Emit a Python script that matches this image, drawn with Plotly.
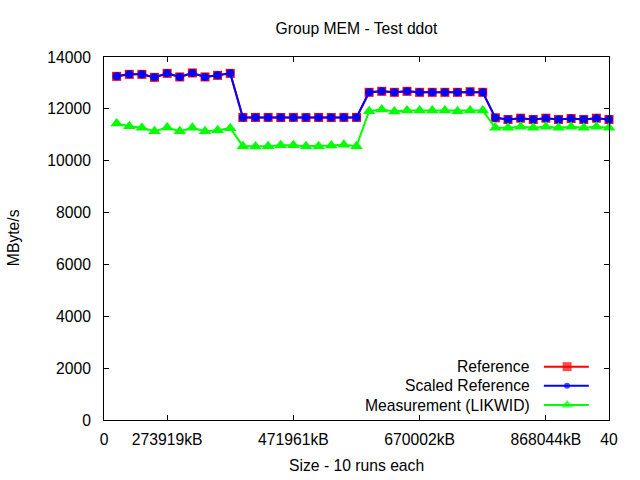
import plotly.graph_objects as go

# ---- data ----
run_index = [1, 2, 3, 4, 5, 6, 7, 8, 9, 10,
             11, 12, 13, 14, 15, 16, 17, 18, 19, 20,
             21, 22, 23, 24, 25, 26, 27, 28, 29, 30,
             31, 32, 33, 34, 35, 36, 37, 38, 39, 40]

reference = [13254, 13331, 13331, 13215, 13369, 13231, 13385, 13231, 13292, 13369,
             11670, 11670, 11670, 11665, 11670, 11665, 11670, 11665, 11670, 11670,
             12638, 12677, 12638, 12677, 12638, 12638, 12638, 12638, 12660, 12638,
             11654, 11590, 11640, 11590, 11640, 11590, 11628, 11590, 11640, 11590]

scaled_reference = [13254, 13331, 13331, 13215, 13369, 13231, 13385, 13231, 13292, 13369,
                    11670, 11670, 11670, 11665, 11670, 11665, 11670, 11665, 11670, 11670,
                    12638, 12677, 12638, 12677, 12638, 12638, 12638, 12638, 12660, 12638,
                    11654, 11590, 11640, 11590, 11640, 11590, 11628, 11590, 11640, 11590]

measurement = [11435, 11331, 11269, 11138, 11281, 11138, 11269, 11138, 11177, 11254,
               10560, 10550, 10560, 10600, 10600, 10560, 10560, 10585, 10620, 10560,
               11908, 11973, 11896, 11935, 11935, 11935, 11935, 11908, 11935, 11935,
               11269, 11269, 11308, 11269, 11308, 11269, 11308, 11269, 11308, 11269]

x_tick_vals = [0, 5, 15, 25, 35, 40]
x_tick_text = ["0", "273919kB", "471961kB", "670002kB", "868044kB", "40"]
y_tick_vals = [0, 2000, 4000, 6000, 8000, 10000, 12000, 14000]

series_names = ["Reference", "Scaled Reference", "Measurement (LIKWID)"]
series_colors = ["#ff0000", "#0000ff", "#00ff00"]
series_symbols = ["square", "circle", "triangle-up"]
series_sizes = [9, 8, 11]
key_sizes = [9, 6, 10]

FONT = "Liberation Sans, Arial, Helvetica, sans-serif"
FS = 15.7

fig = go.Figure()
for name, vals, col, sym, sz in zip(series_names, [reference, scaled_reference, measurement],
                                    series_colors, series_symbols, series_sizes):
    fig.add_trace(go.Scatter(
        x=run_index, y=vals, mode="lines+markers", name=name,
        line=dict(color=col, width=2),
        marker=dict(color=col, symbol=sym, size=sz, line=dict(width=0)),
        showlegend=False, cliponaxis=False,
    ))

# ---- custom gnuplot-style key (text left, sample right) ----
key_y = [0.147, 0.0945, 0.0413]
text_x = 0.847
line_x0, line_xm, line_x1 = 0.871, 0.917, 0.960
for name, col, sym, sz, ky in zip(series_names, series_colors, series_symbols, key_sizes, key_y):
    fig.add_annotation(x=text_x, y=ky, xref="paper", yref="paper", text=name,
                       showarrow=False, xanchor="right", yanchor="middle",
                       font=dict(family=FONT, size=FS, color="#000"))
    fig.add_trace(go.Scatter(
        x=[line_x0, line_xm, line_x1], y=[ky, ky, ky], xaxis="x2", yaxis="y2",
        mode="lines+markers", line=dict(color=col, width=2),
        marker=dict(color=col, symbol=sym, size=[0, sz, 0], line=dict(width=0)),
        showlegend=False, hoverinfo="skip",
    ))

axis_common = dict(showline=True, linecolor="#000", linewidth=1, mirror="ticks",
                   ticks="inside", ticklen=5, tickcolor="#000", showgrid=False,
                   zeroline=False, tickfont=dict(family=FONT, size=FS, color="#000"))

fig.update_layout(
    width=640, height=480,
    margin=dict(l=104, r=31, t=57, b=60),
    paper_bgcolor="white", plot_bgcolor="white",
    font=dict(family=FONT, size=FS, color="#000"),
    title=dict(text="Group MEM - Test ddot", x=0.5, xref="paper", xanchor="center",
               y=1 - 28.5 / 480, yref="container", yanchor="middle",
               font=dict(family=FONT, size=FS, color="#000")),
    xaxis=dict(range=[0, 40], tickmode="array", tickvals=x_tick_vals, ticktext=x_tick_text,
               ticklabelstandoff=5, **axis_common),
    yaxis=dict(range=[0, 14000], tickmode="array", tickvals=y_tick_vals,
               ticktext=[str(v) for v in y_tick_vals], ticklabelstandoff=9, **axis_common),
    xaxis2=dict(range=[0, 1], overlaying="x", visible=False),
    yaxis2=dict(range=[0, 1], overlaying="y", visible=False),
    showlegend=False,
)

fig.add_annotation(x=0, y=0.501, xref="paper", yref="paper", text="MByte/s",
                   textangle=-90, showarrow=False, xanchor="center", yanchor="middle",
                   xshift=-91, font=dict(family=FONT, size=FS, color="#000"))
fig.add_annotation(x=0.5, y=0, xref="paper", yref="paper", text="Size - 10 runs each",
                   showarrow=False, xanchor="center", yanchor="middle",
                   yshift=-45, font=dict(family=FONT, size=FS, color="#000"))

fig.write_html("out.html")
